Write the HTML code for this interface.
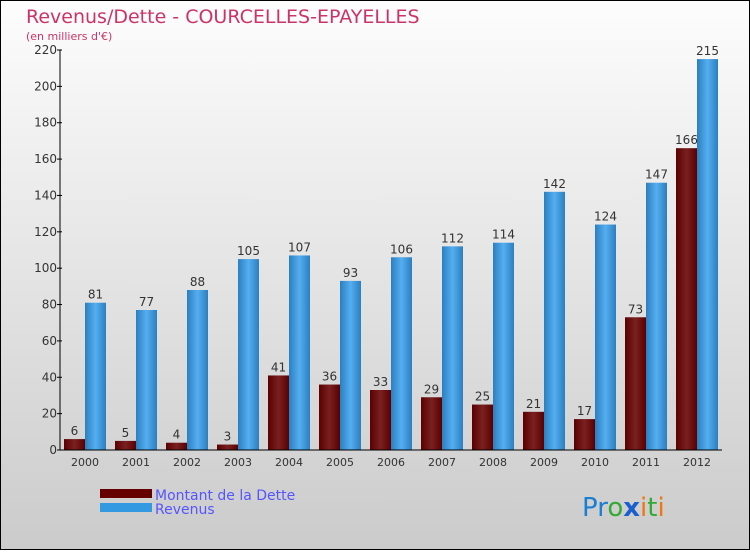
<!DOCTYPE html>
<html><head><meta charset="utf-8"><style>
body{margin:0}
#c{width:750px;height:550px;position:relative;font-family:"DejaVu Sans","Liberation Sans",sans-serif}
</style></head><body>
<div id="c">
<svg width="750" height="550" id="s">
<defs>
<linearGradient id="bg" x1="0" y1="0" x2="0" y2="1"><stop offset="0" stop-color="#fdfdfd"/><stop offset="1" stop-color="#cbcbcb"/></linearGradient>
<linearGradient id="gd" x1="0" y1="0" x2="1" y2="0"><stop offset="0" stop-color="#5a0000"/><stop offset="0.5" stop-color="#7a2020"/><stop offset="1" stop-color="#5a0000"/></linearGradient>
<linearGradient id="gr" x1="0" y1="0" x2="1" y2="0"><stop offset="0" stop-color="#2b7fc0"/><stop offset="0.5" stop-color="#55aef0"/><stop offset="1" stop-color="#2b7fc0"/></linearGradient>
</defs>
<rect x="0.5" y="0.5" width="749" height="549" fill="url(#bg)" stroke="#000"/>
<text x="26" y="23" font-size="19" fill="#cc3366">Revenus/Dette - COURCELLES-EPAYELLES</text>
<text x="26" y="40" font-size="11" fill="#cc3366">(en milliers d'€)</text>
<g id="plot"></g>
<rect x="100" y="489" width="52" height="9" fill="#660000"/>
<rect x="100" y="503" width="52" height="9" fill="#3399e0"/>
<text x="155" y="500" font-size="14" fill="#5555ff">Montant de la Dette</text>
<text x="155" y="514" font-size="14" fill="#5555ff">Revenus</text>
<text x="582" y="516" font-size="26" font-family="'DejaVu Sans',sans-serif"><tspan fill="#1a7fd0">Pr</tspan><tspan fill="#33aa33">o</tspan><tspan fill="#1a5fd0" font-weight="bold">x</tspan><tspan fill="#ee7711">i</tspan><tspan fill="#33aa33">t</tspan><tspan fill="#ee7711">i</tspan></text>
</svg>
</div>
<script>
const categories=["2000","2001","2002","2003","2004","2005","2006","2007","2008","2009","2010","2011","2012"];
const dette=[6,5,4,3,41,36,33,29,25,21,17,73,166];
const revenus=[81,77,88,105,107,93,106,112,114,142,124,147,215];
const yTicks=[0,20,40,60,80,100,120,140,160,180,200,220];
const NS="http://www.w3.org/2000/svg";
const g=document.getElementById('plot');
const y0=450,yTop=50,yMax=220,x0=60,step=51,gStart=64,bw=21;
function y(v){return y0-(v/yMax)*(y0-yTop);}
function xg(i){return gStart+i*step;}
function mk(t,a,txt){const e=document.createElementNS(NS,t);for(const k in a)e.setAttribute(k,a[k]);if(txt!==undefined)e.textContent=txt;g.appendChild(e);return e;}
categories.forEach((c,i)=>{
 let e=mk('rect',{x:xg(i),y:y(dette[i]),width:bw,height:y0-y(dette[i]),fill:'url(#gd)'});
 
 
 e=mk('rect',{x:xg(i)+bw,y:y(revenus[i]),width:bw,height:y0-y(revenus[i]),fill:'url(#gr)'});
 
 
 e=mk('text',{x:xg(i)+bw/2,y:y(dette[i])-4,'font-size':12,fill:'#333','text-anchor':'middle'},dette[i]);
 
 
 e=mk('text',{x:xg(i)+bw*1.5,y:y(revenus[i])-4,'font-size':12,fill:'#333','text-anchor':'middle'},revenus[i]);
 
 
 e=mk('text',{x:xg(i)+bw,y:466,'font-size':11,fill:'#333','text-anchor':'middle'},c);
 
 
});
yTicks.forEach(v=>{
 let e=mk('line',{x1:x0-3,x2:x0+2,y1:y(v),y2:y(v),stroke:'#000'});
 
 
 e=mk('text',{x:x0-3,y:y(v)+4,'font-size':12,fill:'#333','text-anchor':'end'},v);
 
 
});
let ax=mk('line',{x1:x0,x2:x0,y1:yTop,y2:y0,stroke:'#000'});


ax=mk('line',{x1:x0,x2:722,y1:y0,y2:y0,stroke:'#000'});


</script>
</body></html>
